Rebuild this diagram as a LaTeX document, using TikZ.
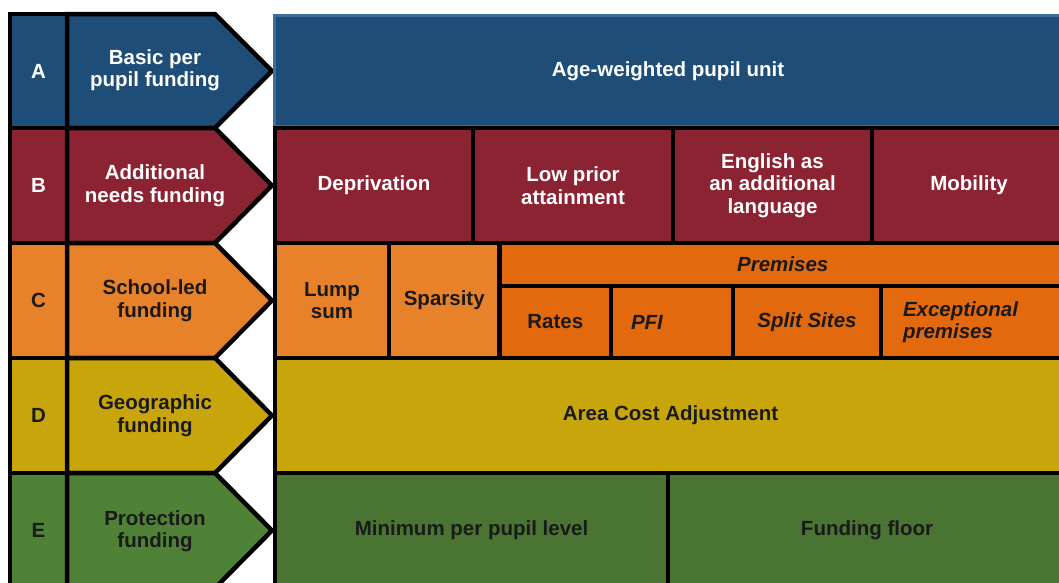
\documentclass[tikz,border=0pt]{standalone}
\usepackage{fontspec}
\setmainfont{Liberation Sans}
\usetikzlibrary{positioning}

\definecolor{fundblue}{HTML}{1E4D78}
\definecolor{fundblueedge}{HTML}{3E6D9C}
\definecolor{fundred}{HTML}{8B2332}
\definecolor{fundorange}{HTML}{E8822A}
\definecolor{fundpremises}{HTML}{E2690E}
\definecolor{fundyellow}{HTML}{C8A60B}
\definecolor{fundgreen}{HTML}{4F8236}
\definecolor{fundgreendark}{HTML}{4A7431}
\definecolor{funddark}{HTML}{1A1A1A}

\begin{document}
\begin{tikzpicture}[x=1pt,y=-1pt,
  cell/.style={draw=black, line width=4.5pt, align=center, inner sep=2pt,
    font=\bfseries\fontsize{20.5}{22.5}\selectfont},
  band/.style={draw=black, line width=4.5pt, line join=miter},
  lbl/.style={align=center, font=\bfseries\fontsize{20.5}{22.5}\selectfont}]
  \useasboundingbox (0,0) rectangle (1059,582);
  \clip (0,0) rectangle (1059,582);

  %left: letters and arrows
  \node[cell, fill=fundblue, text=white, minimum width=57pt, minimum height=114pt] (letA) at (38.5,71) {A};
  \node[cell, fill=fundred, text=white, minimum width=57pt, minimum height=115pt] (letB) at (38.5,185.5) {B};
  \node[cell, fill=fundorange, text=funddark, minimum width=57pt, minimum height=115pt] (letC) at (38.5,300.5) {C};
  \node[cell, fill=fundyellow, text=funddark, minimum width=57pt, minimum height=115pt] (letD) at (38.5,415.5) {D};
  \node[cell, fill=fundgreen, text=funddark, minimum width=57pt, minimum height=115pt] (letE) at (38.5,530.5) {E};

  \draw[band, fill=fundblue] (67,14) -- (215,14) -- (272,71) -- (215,128) -- (67,128) -- cycle;
  \draw[band, fill=fundred] (67,128) -- (215,128) -- (272,185.5) -- (215,243) -- (67,243) -- cycle;
  \draw[band, fill=fundorange] (67,243) -- (215,243) -- (272,300.5) -- (215,358) -- (67,358) -- cycle;
  \draw[band, fill=fundyellow] (67,358) -- (215,358) -- (272,415.5) -- (215,473) -- (67,473) -- cycle;
  \draw[band, fill=fundgreen] (67,473) -- (215,473) -- (272,530.5) -- (215,588) -- (67,588) -- cycle;

  \node[lbl, text=white] (basic) at (155,70) {Basic per\\pupil funding};
  \node[lbl, text=white] (additional) at (155,185.5) {Additional\\needs funding};
  \node[lbl, text=funddark] (schoolled) at (155,300.5) {School-led\\funding};
  \node[lbl, text=funddark] (geographic) at (155,415.5) {Geographic\\funding};
  \node[lbl, text=funddark] (protection) at (155,531) {Protection\\funding};

  %A
  \node[cell, draw=fundblueedge, line width=3pt, fill=fundblue, text=white,
    minimum width=787pt, minimum height=110.5pt] (awpu) at (668,70.75) {Age-weighted pupil unit};

  %B
  \node[cell, fill=fundred, text=white, minimum width=198pt, minimum height=115pt] (depriv) at (374,185.5) {Deprivation};
  \node[cell, fill=fundred, text=white, minimum width=200pt, minimum height=115pt] (lowprior) at (573,185.5) {Low prior\\attainment};
  \node[cell, fill=fundred, text=white, minimum width=199pt, minimum height=115pt] (eal) at (772.5,185.5) {English as\\an additional\\language};
  \node[cell, fill=fundred, text=white, minimum width=194pt, minimum height=115pt] (mobility) at (969,185.5) {Mobility};

  %C
  \node[cell, fill=fundorange, text=funddark, minimum width=114pt, minimum height=115pt] (lump) at (332,300.5) {Lump\\sum};
  \node[cell, fill=fundorange, text=funddark, minimum width=110.5pt, minimum height=115pt] (sparsity) at (444.25,300.5) {Sparsity};
  \node[cell, fill=fundpremises, text=funddark, minimum width=566.5pt, minimum height=43pt] (premises) at (782.75,264.5) {\itshape Premises};
  \node[cell, fill=fundpremises, text=funddark, minimum width=111.5pt, minimum height=72pt] (rates) at (555.25,322) {Rates};
  \node[cell, fill=fundpremises, text=funddark, minimum width=122pt, minimum height=72pt,
    inner xsep=20pt, text width=82pt, align=left] (pfi) at (672,322) {\itshape PFI};
  \node[cell, fill=fundpremises, text=funddark, minimum width=148pt, minimum height=72pt] (split) at (807,322) {\itshape Split Sites};
  \node[cell, fill=fundpremises, text=funddark, minimum width=185pt, minimum height=72pt,
    inner xsep=22pt, text width=141pt, align=left] (exceptional) at (973.5,322) {\itshape Exceptional\\\itshape premises};

  %D
  \node[cell, fill=fundyellow, text=funddark, minimum width=791pt, minimum height=115pt] (aca) at (670.5,415.5) {Area Cost Adjustment};

  %E
  \node[cell, fill=fundgreendark, text=funddark, minimum width=393pt, minimum height=115pt] (mppl) at (471.5,530.5) {Minimum per pupil level};
  \node[cell, fill=fundgreendark, text=funddark, minimum width=398pt, minimum height=115pt] (floor) at (867,530.5) {Funding floor};
\end{tikzpicture}
\end{document}
